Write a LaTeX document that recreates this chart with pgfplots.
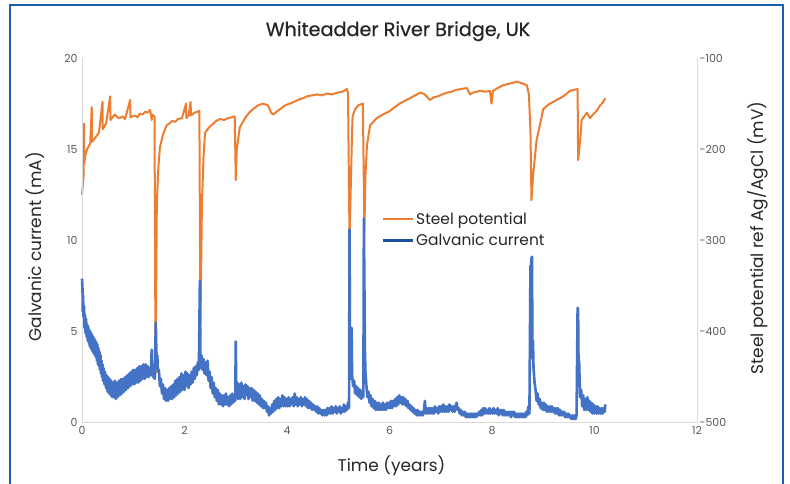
\documentclass[border=0pt]{standalone}
\usepackage{pgfplots}
\pgfplotsset{compat=1.18}
\usepackage{fontspec}
\setmainfont{Poppins}
\newfontfamily\titlefont{Poppins}[FakeBold=0.7]
\definecolor{orng}{RGB}{237,125,49}
\definecolor{blu}{RGB}{68,114,196}
\definecolor{bluleg}{RGB}{30,80,160}
\definecolor{framec}{RGB}{25,95,175}
\definecolor{axgray}{RGB}{217,217,217}
\definecolor{tickgray}{RGB}{90,90,90}
\definecolor{txt}{RGB}{38,38,38}

\pgfplotstableread{
t P
0.00 -250
0.03 -230
0.04 -172
0.045 -216
0.06 -208
0.10 -200
0.16 -194
0.19 -154
0.195 -192
0.25 -188
0.33 -182
0.40 -148
0.405 -178
0.47 -172
0.55 -142
0.555 -168
0.64 -162
0.69 -165
0.74 -166
0.79 -164
0.84 -167
0.94 -146
0.945 -165
1.03 -163
1.08 -165
1.13 -161
1.18 -162
1.23 -159
1.28 -160
1.33 -157
1.36 -168
1.37 -162
1.415 -164
1.435 -447
1.46 -260
1.49 -220
1.52 -198
1.58 -184
1.65 -174
1.70 -172
1.76 -169
1.82 -170
1.87 -167
1.95 -166
2.03 -150
2.035 -166
2.08 -163
2.12 -148
2.125 -163
2.20 -160
2.29 -158
2.31 -400
2.34 -260
2.37 -210
2.40 -182
2.48 -176
2.56 -172
2.62 -169
2.69 -167
2.77 -168
2.85 -166
2.92 -165
2.98 -164
3.00 -234
3.02 -200
3.08 -176
3.18 -166
3.26 -160
3.34 -156
3.43 -152
3.53 -150
3.63 -152
3.69 -160
3.73 -162
3.82 -158
3.96 -152
4.10 -149
4.18 -147
4.25 -145
4.32 -144
4.39 -142
4.49 -141
4.59 -140
4.68 -141
4.78 -139
4.88 -140
4.98 -138
5.08 -137
5.17 -134
5.19 -138
5.22 -300
5.24 -252
5.27 -180
5.28 -164
5.33 -156
5.39 -152
5.48 -150
5.51 -290
5.53 -230
5.56 -196
5.62 -174
5.75 -166
5.87 -162
6.01 -158
6.10 -154
6.20 -150
6.30 -147
6.40 -144
6.50 -141
6.60 -138
6.69 -140
6.79 -146
6.87 -143
6.95 -142
7.03 -140
7.12 -138
7.21 -137
7.30 -135
7.40 -134
7.51 -133
7.57 -140
7.63 -138
7.70 -137
7.77 -136
7.87 -137
7.96 -136
7.99 -150
8.02 -136
8.11 -133
8.21 -130
8.28 -129
8.35 -128
8.42 -127
8.48 -126
8.54 -127
8.60 -128
8.68 -130
8.72 -140
8.75 -180
8.77 -256
8.80 -230
8.87 -190
8.94 -172
9.00 -156
9.06 -153
9.13 -150
9.20 -148
9.26 -146
9.33 -144
9.39 -142
9.46 -139
9.52 -136
9.60 -135
9.67 -134
9.68 -212
9.72 -190
9.75 -168
9.85 -160
9.91 -166
9.97 -162
10.04 -158
10.11 -152
10.16 -149
10.21 -144
}\potential

\pgfplotstableread{
t I
0.00 7.9
0.01 7.3
0.015 6.1
0.02 7.0
0.03 5.8
0.04 6.4
0.05 5.2
0.06 5.9
0.07 4.9
0.08 5.7
0.09 4.7
0.10 5.4
0.11 4.5
0.12 5.3
0.13 4.4
0.14 5.1
0.15 4.2
0.16 5.0
0.17 4.1
0.18 4.9
0.19 4.0
0.20 4.8
0.21 3.9
0.22 4.7
0.23 3.8
0.24 4.6
0.25 3.7
0.26 4.5
0.27 3.6
0.28 4.4
0.29 3.4
0.30 4.3
0.31 3.2
0.32 4.1
0.33 3.1
0.34 3.9
0.35 2.9
0.36 3.7
0.37 2.7
0.38 3.4
0.39 2.5
0.40 3.2
0.41 2.3
0.42 3.0
0.44 2.1
0.45 2.8
0.47 1.9
0.48 2.6
0.50 1.7
0.51 2.5
0.53 1.6
0.54 2.4
0.56 1.5
0.57 2.3
0.59 1.4
0.60 2.2
0.62 1.4
0.64 2.3
0.66 1.3
0.68 2.2
0.70 1.4
0.72 2.3
0.74 1.5
0.76 2.4
0.78 1.6
0.80 2.4
0.82 1.7
0.84 2.5
0.86 1.8
0.88 2.6
0.90 1.9
0.92 2.7
0.94 2.0
0.96 2.8
0.98 2.1
1.00 2.9
1.02 2.1
1.04 2.9
1.06 2.2
1.08 3.0
1.10 2.2
1.12 3.1
1.14 2.3
1.16 3.1
1.18 2.4
1.20 3.2
1.22 2.4
1.24 3.2
1.26 2.5
1.28 3.1
1.30 2.5
1.32 3.0
1.34 2.6
1.36 4.0
1.37 2.8
1.39 2.5
1.41 2.9
1.42 2.4
1.44 5.5
1.45 4.0
1.46 3.4
1.47 3.7
1.48 2.8
1.50 2.9
1.52 2.0
1.54 2.4
1.56 1.6
1.58 2.1
1.60 1.3
1.62 1.9
1.64 1.2
1.66 1.8
1.68 1.2
1.70 1.9
1.72 1.3
1.74 2.0
1.76 1.3
1.78 2.1
1.80 1.4
1.82 2.3
1.84 1.5
1.86 2.4
1.88 1.6
1.90 2.5
1.92 1.7
1.94 2.7
1.96 1.8
1.98 2.6
2.00 1.8
2.02 2.8
2.04 2.0
2.06 2.7
2.08 1.9
2.10 2.6
2.12 2.1
2.14 2.8
2.16 2.2
2.18 3.0
2.20 2.4
2.22 3.1
2.24 2.6
2.26 3.3
2.28 2.9
2.30 7.8
2.31 3.6
2.32 3.0
2.33 3.7
2.35 2.9
2.37 3.5
2.39 2.7
2.41 3.3
2.43 2.6
2.45 3.4
2.47 2.3
2.49 2.8
2.51 1.9
2.53 2.5
2.55 1.6
2.57 2.2
2.59 1.4
2.61 1.9
2.63 1.2
2.65 1.8
2.67 1.0
2.69 1.6
2.71 1.0
2.73 1.5
2.75 0.9
2.77 1.5
2.79 1.0
2.81 1.6
2.83 1.0
2.85 1.4
2.87 0.9
2.89 1.5
2.91 1.0
2.93 1.6
2.95 1.1
2.97 1.5
2.99 1.2
3.00 4.45
3.01 1.6
3.03 2.2
3.05 1.3
3.07 2.1
3.09 1.3
3.11 2.2
3.13 1.4
3.15 2.0
3.17 1.3
3.19 2.1
3.21 1.5
3.23 2.0
3.25 1.3
3.27 1.9
3.29 1.4
3.31 1.9
3.33 1.2
3.35 1.8
3.37 1.2
3.39 1.7
3.41 1.1
3.43 1.6
3.45 1.0
3.47 1.5
3.49 0.9
3.51 1.3
3.53 0.8
3.55 1.2
3.57 0.8
3.59 1.1
3.61 0.6
3.63 0.9
3.65 0.4
3.67 0.8
3.69 0.5
3.71 1.0
3.73 0.6
3.75 1.2
3.77 0.7
3.79 1.3
3.81 0.8
3.83 1.4
3.85 0.8
3.87 1.3
3.89 0.9
3.91 1.5
3.93 0.9
3.95 1.4
3.97 0.9
3.99 1.3
4.01 0.9
4.03 1.4
4.05 0.9
4.07 1.3
4.09 1.0
4.11 1.4
4.13 0.9
4.15 1.6
4.17 1.0
4.19 1.4
4.21 0.9
4.23 1.3
4.25 1.0
4.27 1.4
4.29 0.9
4.31 1.3
4.33 1.0
4.35 1.4
4.37 0.9
4.39 1.3
4.41 0.8
4.43 1.2
4.45 0.8
4.47 1.1
4.49 0.7
4.51 1.0
4.53 0.7
4.55 0.9
4.57 0.6
4.59 0.9
4.61 0.5
4.63 0.8
4.65 0.5
4.67 0.7
4.69 0.4
4.71 0.7
4.73 0.4
4.75 0.7
4.77 0.4
4.79 0.8
4.81 0.5
4.83 0.8
4.85 0.5
4.87 0.9
4.89 0.5
4.91 0.8
4.93 0.6
4.95 0.9
4.97 0.5
4.99 0.8
5.01 0.6
5.03 0.9
5.05 0.5
5.07 0.8
5.09 0.6
5.11 1.0
5.13 0.6
5.15 0.9
5.17 0.7
5.19 1.1
5.21 0.8
5.22 10.6
5.23 3.0
5.25 2.4
5.26 5.2
5.27 2.6
5.29 2.0
5.31 2.3
5.33 1.6
5.35 2.0
5.37 1.5
5.39 1.9
5.41 1.4
5.43 1.8
5.45 1.3
5.47 1.7
5.49 1.4
5.50 11.2
5.52 4.0
5.53 2.8
5.55 2.0
5.57 1.4
5.59 1.7
5.61 1.1
5.63 1.5
5.65 0.9
5.67 1.3
5.69 0.8
5.71 1.2
5.73 0.7
5.75 1.1
5.77 0.7
5.79 1.1
5.81 0.7
5.83 1.0
5.85 0.7
5.87 1.1
5.89 0.7
5.91 1.0
5.93 0.7
5.95 1.1
5.97 0.8
5.99 1.1
6.01 0.8
6.03 1.2
6.05 0.8
6.07 1.2
6.09 0.9
6.11 1.3
6.13 0.9
6.15 1.4
6.17 1.0
6.19 1.5
6.21 1.1
6.23 1.4
6.25 1.0
6.27 1.4
6.29 1.0
6.31 1.3
6.33 0.9
6.35 1.2
6.37 0.8
6.39 1.0
6.41 0.7
6.43 0.9
6.45 0.6
6.47 0.8
6.49 0.5
6.51 0.7
6.53 0.4
6.55 0.7
6.57 0.4
6.59 0.6
6.61 0.4
6.63 0.6
6.65 0.4
6.67 0.6
6.69 1.2
6.71 0.5
6.73 0.8
6.75 0.5
6.77 0.8
6.79 0.5
6.81 0.8
6.83 0.5
6.85 0.8
6.87 0.5
6.89 0.9
6.91 0.6
6.93 0.8
6.95 0.5
6.97 0.9
6.99 0.6
7.01 0.9
7.03 0.6
7.05 1.0
7.07 0.6
7.09 0.9
7.11 0.6
7.13 0.9
7.15 0.6
7.17 1.0
7.19 0.7
7.21 0.9
7.23 0.6
7.25 0.9
7.27 0.6
7.29 0.9
7.31 1.1
7.33 0.7
7.35 0.8
7.37 0.5
7.39 0.7
7.41 0.4
7.43 0.6
7.45 0.4
7.47 0.6
7.49 0.3
7.51 0.5
7.53 0.3
7.55 0.5
7.57 0.3
7.59 0.5
7.61 0.3
7.63 0.5
7.65 0.3
7.67 0.5
7.69 0.3
7.71 0.5
7.73 0.4
7.75 0.6
7.77 0.4
7.79 0.7
7.81 0.4
7.83 0.8
7.85 0.5
7.87 0.8
7.89 0.5
7.91 0.7
7.93 0.5
7.95 0.8
7.97 0.5
7.99 0.7
8.01 0.5
8.03 0.8
8.05 0.5
8.07 0.7
8.09 0.5
8.11 0.8
8.13 0.4
8.15 0.7
8.17 0.5
8.19 0.7
8.21 0.4
8.23 0.7
8.25 0.4
8.27 0.6
8.29 0.4
8.31 0.6
8.33 0.4
8.35 0.6
8.37 0.3
8.39 0.6
8.41 0.4
8.43 0.6
8.45 0.3
8.47 0.5
8.49 0.3
8.51 0.5
8.53 0.3
8.55 0.5
8.57 0.3
8.59 0.5
8.61 0.3
8.63 0.5
8.65 0.3
8.67 0.6
8.69 0.4
8.71 0.9
8.73 0.5
8.75 8.6
8.76 8.5
8.77 9.0
8.78 9.1
8.79 3.5
8.80 4.5
8.81 3.0
8.83 2.2
8.85 1.8
8.87 1.2
8.89 1.6
8.91 1.0
8.93 1.3
8.95 0.8
8.97 1.1
8.99 0.7
9.01 1.1
9.03 0.7
9.05 1.0
9.07 0.6
9.09 0.9
9.11 0.6
9.13 0.9
9.15 0.6
9.17 0.9
9.19 0.6
9.21 0.8
9.23 0.5
9.25 0.8
9.27 0.5
9.29 0.8
9.31 0.4
9.33 0.7
9.35 0.4
9.37 0.6
9.39 0.4
9.41 0.6
9.43 0.3
9.45 0.5
9.47 0.3
9.49 0.5
9.51 0.3
9.53 0.4
9.55 0.2
9.57 0.4
9.59 0.2
9.61 0.4
9.63 0.2
9.65 0.4
9.67 6.3
9.68 6.2
9.69 2.5
9.70 3.4
9.71 2.2
9.72 1.4
9.74 1.8
9.76 0.9
9.78 1.5
9.80 0.7
9.82 1.3
9.84 0.7
9.86 1.4
9.88 0.7
9.90 1.2
9.92 0.6
9.94 1.1
9.96 0.5
9.98 1.0
10.00 0.5
10.02 0.9
10.04 0.5
10.06 0.9
10.08 0.5
10.10 0.8
10.12 0.5
10.14 0.8
10.16 0.5
10.18 0.8
10.20 0.6
10.21 1.0
}\current

\pgfplotsset{
  common/.style={
    at={(82bp,61.3bp)}, anchor=south west,
    scale only axis, width=615bp, height=364.7bp,
    xmin=0, xmax=12,
    tick style={draw=none},
    axis line style={axgray, line width=1bp},
    ticklabel style={font=\fontsize{11}{13}\selectfont, text=tickgray},
    /pgf/number format/assume math mode=true,
    clip=false,
  }
}

\begin{document}
\begin{tikzpicture}[x=1bp,y=1bp]
\useasboundingbox (0,0) rectangle (790,484);
\fill[white] (0,0) rectangle (790,484);
\draw[framec, line width=2.2bp] (10,-10) -- (10,479) -- (783,479) -- (783,-10);
\node[font=\titlefont\fontsize{19.3}{23}\selectfont, text=txt] at (398,452.7) {Whiteadder River Bridge, UK};
\node[font=\fontsize{17}{20}\selectfont, text=txt] at (391.5,18.5) {Time (years)};
\node[font=\fontsize{17}{20}\selectfont, text=txt, rotate=90] at (35,237.3) {Galvanic current (mA)};
\node[font=\fontsize{17}{20}\selectfont, text=txt, rotate=90] at (758,246) {Steel potential ref Ag/AgCl (mV)};

\begin{axis}[common,
  ymin=-500, ymax=-100,
  axis x line=none,
  axis y line*=right,
  ytick={-500,-400,-300,-200,-100},
  yticklabel style={xshift=-1bp},
]
\addplot[orng, line width=2bp, line join=round] table[x=t, y=P] {\potential};
\end{axis}

\begin{axis}[common,
  ymin=0, ymax=20,
  axis x line*=bottom,
  axis y line*=left,
  ytick={0,5,10,15,20},
  xtick={0,2,4,6,8,10,12},
  yticklabel style={xshift=-1bp},
  legend style={at={(0.487,0.582)}, anchor=north west, draw=none, fill=none,
    font=\fontsize{15.5}{18}\selectfont, text=txt, inner sep=0pt, row sep=4bp,
    /tikz/every even column/.append style={column sep=4bp}},
  legend cell align=left,
  legend image code/.code={\draw[#1] (0bp,0bp) -- (30bp,0bp);},
]
\addlegendimage{orng, line width=2.5bp}
\addlegendentry{Steel potential}
\addlegendimage{bluleg, line width=2.5bp}
\addlegendentry{Galvanic current}
\addplot[blu, line width=2.6bp, line join=round, forget plot] table[x=t, y=I] {\current};
\end{axis}
\end{tikzpicture}
\end{document}
